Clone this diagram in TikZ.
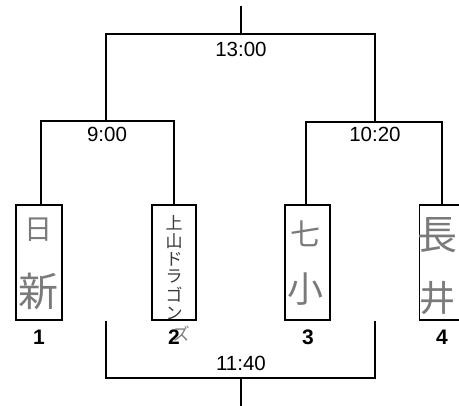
\documentclass[tikz,border=0pt]{standalone}
\usepackage{fontspec}
\setmainfont{Liberation Sans}
\newfontfamily\jfont{Noto Sans CJK JP}
\definecolor{pencil}{HTML}{7A7A7A}
\definecolor{pencildark}{HTML}{3A3A3A}
\begin{document}
\begin{tikzpicture}[x=1pt,y=-1pt,line width=1.2pt,
  team/.style={draw,line width=1.5pt,rectangle,inner sep=0pt,minimum height=115pt},
  timelbl/.style={font=\fontsize{20.5}{24}\selectfont,inner sep=0pt},
  numlbl/.style={font=\fontsize{21}{24}\selectfont\bfseries,inner sep=0pt},
  hand/.style={text=pencil,inner sep=0pt},
  handdark/.style={text=pencildark,inner sep=0pt,font=\fontsize{17}{17}\jfont}]
\useasboundingbox (0,0) rectangle (459,406);
% team boxes
\node[team,minimum width=46pt] (b1) at (38.8,262.5) {};
\node[team,minimum width=44pt] (b2) at (174,262.5) {};
\node[team,minimum width=45pt] (b3) at (307.5,262.5) {};
\node[team,minimum width=45pt] (b4) at (442,262.5) {};
% coordinates
\coordinate (top) at (241,6);
\coordinate (fin) at (241,34);
\coordinate (qL) at (106,121);
\coordinate (qR) at (375,122);
\coordinate (s1) at (41,121);
\coordinate (s2) at (174,121);
\coordinate (s3) at (306,122);
\coordinate (s4) at (442,122);
\coordinate (bL) at (106,378);
\coordinate (bR) at (375,378);
\coordinate (bot) at (241,406);
% brackets
\draw (top) -- (fin);
\draw (qL) |- (fin) -| (qR);
\draw (s1 |- b1.north) -- (s1) -- (s2) -- (s2 |- b2.north);
\draw (s3 |- b3.north) -- (s3) -- (s4) -- (s4 |- b4.north);
\draw (bL |- b1.south) -- (bL) -- (bR) -- (bR |- b3.south);
\draw (bot) -- (bot |- bL);
% times
\node[timelbl] (t1) at (241,49) {13:00};
\node[timelbl] (t2) at (107,134) {9:00};
\node[timelbl] (t3) at (375,134) {10:20};
\node[timelbl] (t4) at (241,363) {11:40};
% numbers
\node[numlbl] (n1) at (39,337) {1};
\node[numlbl] (n2) at (174,337) {2};
\node[numlbl] (n3) at (308,337) {3};
\node[numlbl] (n4) at (442,337) {4};
% handwritten names
\node[hand,font=\fontsize{28}{28}\jfont] (h1a) at (38,230) {日};
\node[hand,font=\fontsize{40}{40}\jfont] (h1b) at (38,291) {新};
\node[handdark] (h2a) at (174,223) {上};
\node[handdark] (h2b) at (174,241) {山};
\node[handdark] (h2c) at (174,259) {ド};
\node[handdark] (h2d) at (174,277) {ラ};
\node[handdark] (h2e) at (174,295) {ゴ};
\node[handdark] (h2f) at (174,313) {ン};
\node[handdark,text=pencil] (h2g) at (181,334) {ズ};
\node[hand,font=\fontsize{30}{30}\jfont] (h3a) at (305,234) {七};
\node[hand,font=\fontsize{36}{36}\jfont] (h3b) at (305,289) {小};
\node[hand,font=\fontsize{40}{40}\jfont] (h4a) at (437,235) {長};
\node[hand,font=\fontsize{36}{36}\jfont] (h4b) at (437,298) {井};
\end{tikzpicture}
\end{document}
